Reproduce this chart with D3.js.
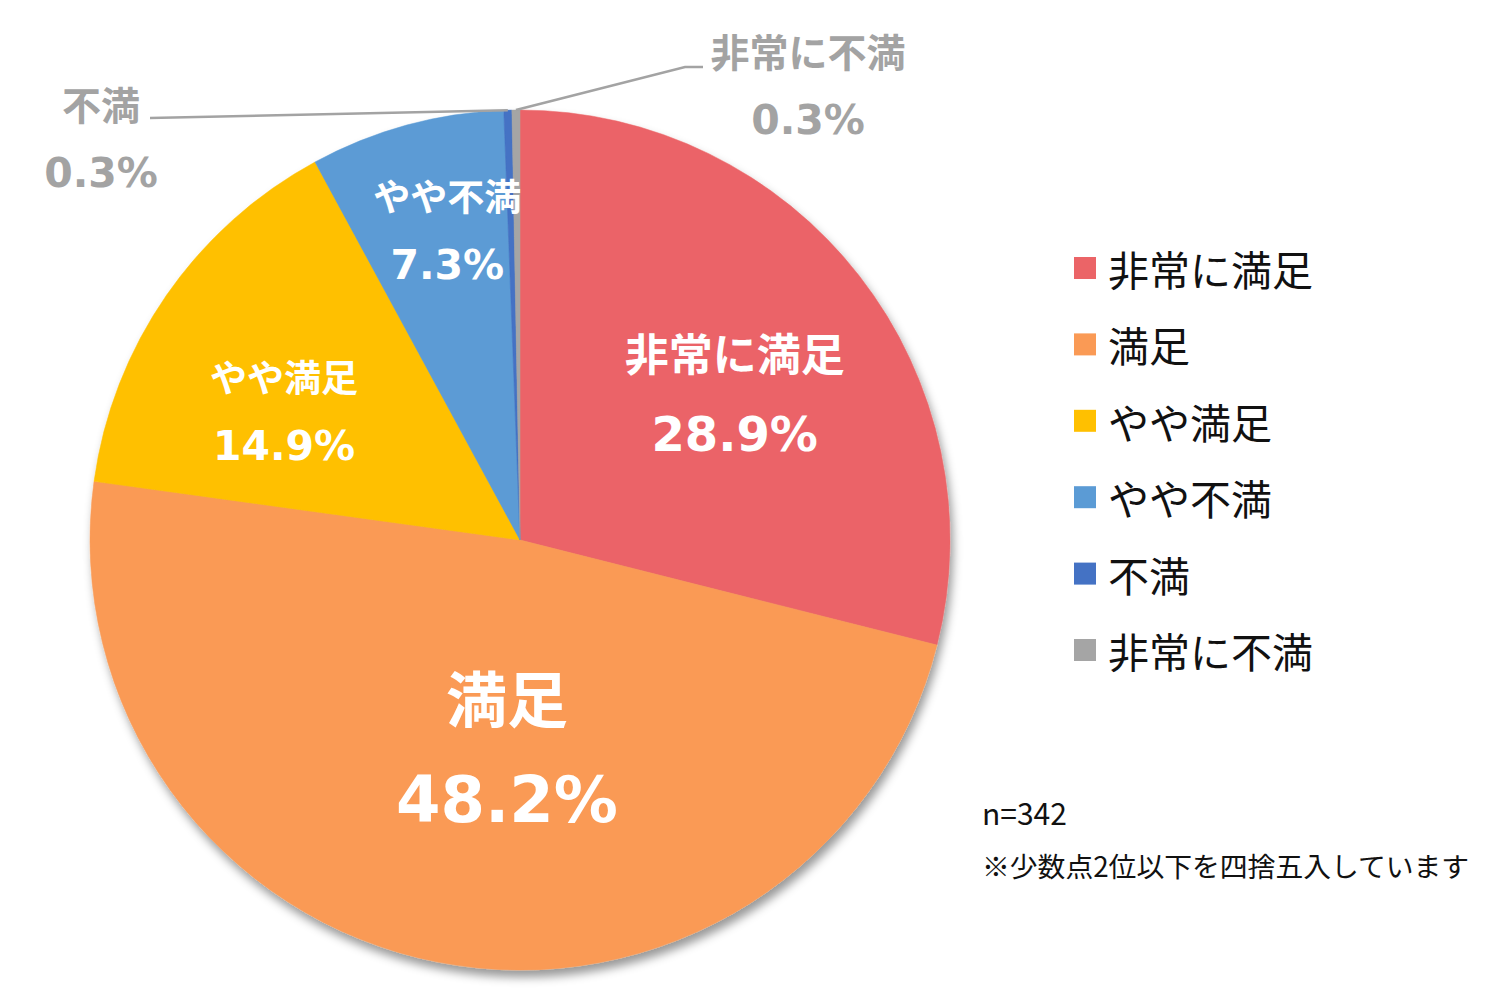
<!DOCTYPE html>
<html>
<head>
<meta charset="utf-8">
<script src="https://cdn.jsdelivr.net/npm/d3@7"></script>
<style>
  body { margin: 0; background: #fff; }
  svg { display: block; }
</style>
</head>
<body>
<svg id="chart" width="1500" height="1000"></svg>
<script>
// data (percent, rounded at 1 decimal)
var categories = ["非常に満足", "満足", "やや満足", "やや不満", "不満", "非常に不満"];
var values = [28.9, 48.2, 14.9, 7.3, 0.3, 0.3];
var colors = ["#EB6467", "#FA9A55", "#FFC000", "#5B9BD5", "#4472C4", "#A5A5A5"];
var sampleNote = "n=342";
var roundNote = "※少数点2位以下を四捨五入しています";

// label placement inside slices: [angle in degrees, radius fraction]
var insideLabels = [[55.6, 0.605], [183.6, 0.485], [298.6, 0.625], [346.8, 0.74]];

var cx = 520, cy = 540, R = 430;
var boldFont = "'DejaVu Sans', 'Noto Sans CJK JP', sans-serif";
var jpFont = "'Noto Sans CJK JP', sans-serif";

var svg = d3.select("#chart");

// drop shadow like the office chart
var defs = svg.append("defs");
var f = defs.append("filter").attr("id", "shadow")
  .attr("x", "-10%").attr("y", "-10%").attr("width", "120%").attr("height", "120%");
f.append("feDropShadow").attr("dx", 3).attr("dy", 7).attr("stdDeviation", 5)
  .attr("flood-color", "#000").attr("flood-opacity", 0.4);

var pie = d3.pie().sort(null).value(d => d);
var arcs = pie(values);

var arc = d3.arc().innerRadius(0).outerRadius(R);

var g = svg.append("g").attr("transform", "translate(" + cx + "," + cy + ")");

g.append("g").attr("filter", "url(#shadow)")
  .selectAll("path").data(arcs).join("path")
  .attr("d", arc)
  .attr("fill", (d, i) => colors[i])
  .attr("stroke", (d, i) => colors[i])
  .attr("stroke-width", 0.5);

// inside labels
var fmt = d => d.toFixed(1) + "%";
var polar = (deg, r) => [r * Math.sin(deg * Math.PI / 180), -r * Math.cos(deg * Math.PI / 180)];

var nameSize = [44, 61, 37, 37];
var pctSize = [48, 64, 41, 41];
var gapHalf = [41, 52, 35, 35];

insideLabels.forEach(function(p, i) {
  var pos = polar(p[0], p[1] * R);
  var lg = g.append("g").attr("transform", "translate(" + pos[0] + "," + pos[1] + ")");
  lg.append("text")
    .attr("y", -gapHalf[i])
    .attr("text-anchor", "middle").attr("dominant-baseline", "central")
    .attr("font-family", jpFont).attr("font-weight", 700)
    .attr("font-size", nameSize[i]).attr("fill", "#fff")
    .text(categories[i]);
  lg.append("text")
    .attr("y", gapHalf[i])
    .attr("text-anchor", "middle").attr("dominant-baseline", "central")
    .attr("font-family", boldFont).attr("font-weight", 700)
    .attr("font-size", pctSize[i]).attr("fill", "#fff")
    .text(fmt(values[i]));
});

// outside labels with leader lines for the two tiny slices
var outside = [
  {i: 4, text: [101 - cx, 103 - cy], elbow: [[150 - cx, 118 - cy]]},
  {i: 5, text: [808 - cx, 50 - cy], elbow: [[685 - cx, 67 - cy], [703 - cx, 67 - cy]]}
];
var grey = "#A3A3A3";

outside.forEach(function(o) {
  var a = arcs[o.i];
  var mid = (a.startAngle + a.endAngle) / 2;
  var start = [R * Math.sin(mid), -R * Math.cos(mid)];
  var pts = [start].concat(o.elbow);
  g.append("path")
    .attr("d", d3.line()(pts))
    .attr("fill", "none").attr("stroke", grey).attr("stroke-width", 2.5);
  g.append("text")
    .attr("x", o.text[0]).attr("y", o.text[1])
    .attr("text-anchor", "middle").attr("dominant-baseline", "central")
    .attr("font-family", jpFont).attr("font-weight", 700)
    .attr("font-size", 39).attr("fill", grey)
    .text(categories[o.i]);
  g.append("text")
    .attr("x", o.text[0]).attr("y", o.text[1] + 70)
    .attr("text-anchor", "middle").attr("dominant-baseline", "central")
    .attr("font-family", boldFont).attr("font-weight", 700)
    .attr("font-size", 41).attr("fill", grey)
    .text(fmt(values[o.i]));
});

// legend
var legendY = d3.scalePoint().domain(categories).range([268, 650]);
var legend = svg.append("g");
var items = legend.selectAll("g").data(categories).join("g")
  .attr("transform", d => "translate(1074," + legendY(d) + ")");
items.append("rect")
  .attr("x", 0).attr("y", -11).attr("width", 22).attr("height", 22)
  .attr("fill", (d, i) => colors[i]);
items.append("text")
  .attr("x", 34).attr("y", 0)
  .attr("dominant-baseline", "central")
  .attr("font-family", jpFont).attr("font-size", 41).attr("fill", "#111")
  .text(d => d);

// notes
svg.append("text")
  .attr("x", 982).attr("y", 812).attr("dominant-baseline", "central")
  .attr("font-family", jpFont).attr("font-size", 30).attr("fill", "#111")
  .text(sampleNote);
svg.append("text")
  .attr("x", 982).attr("y", 865).attr("dominant-baseline", "central")
  .attr("font-family", jpFont).attr("font-size", 27.8).attr("fill", "#111")
  .text(roundNote);
</script>
</body>
</html>
